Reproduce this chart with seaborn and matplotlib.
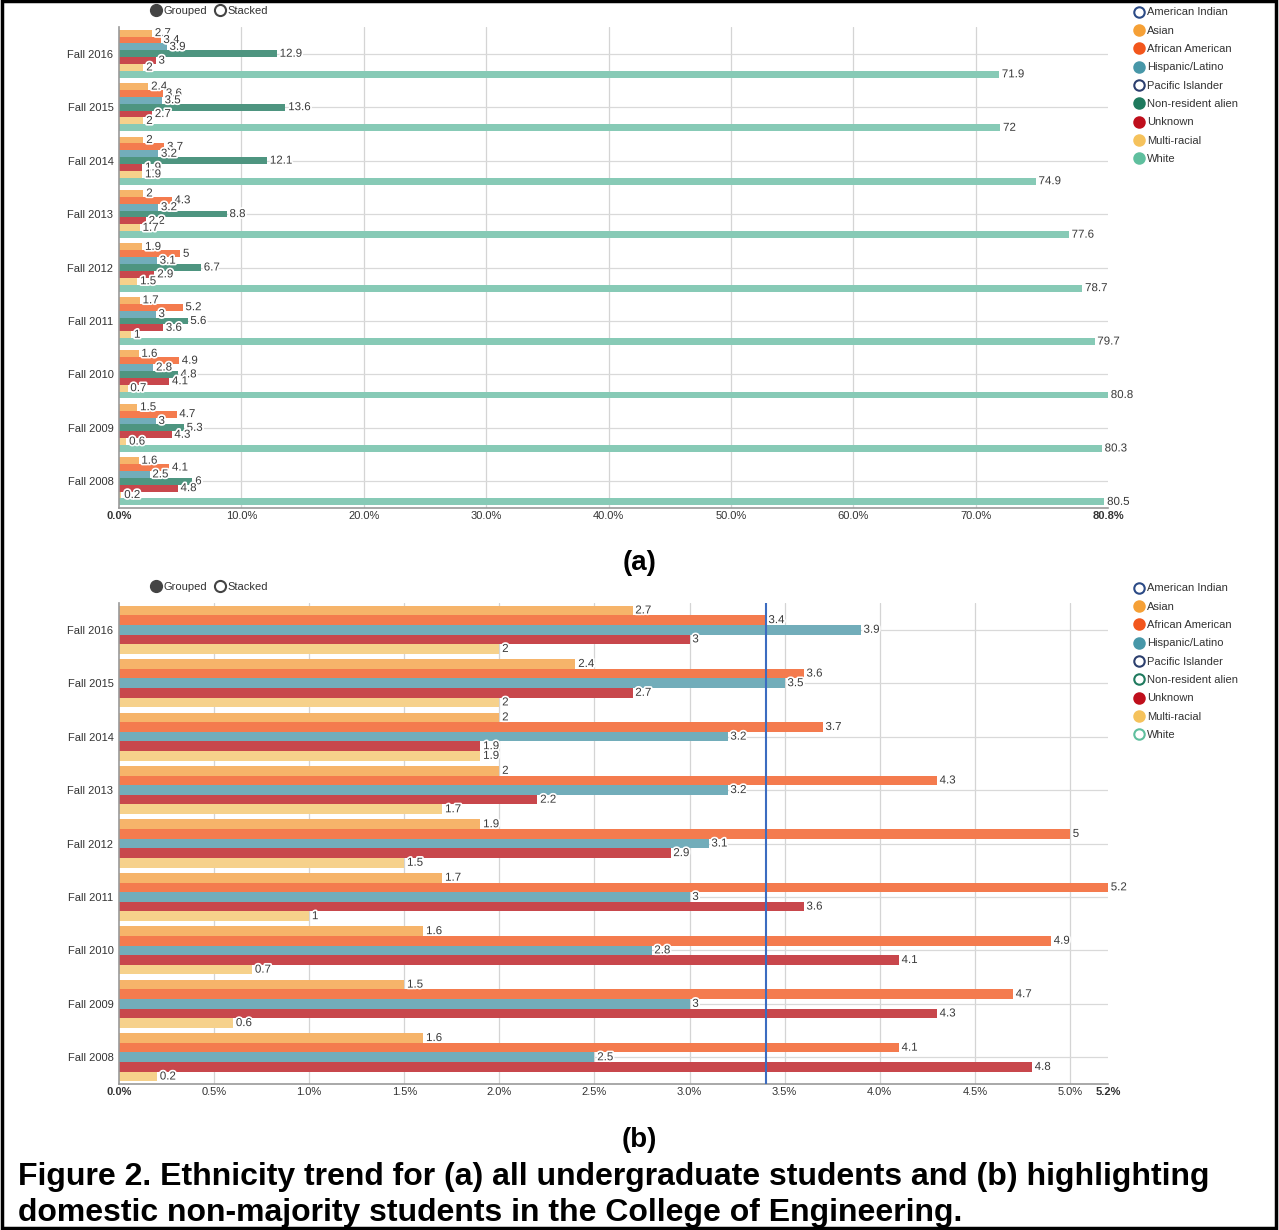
import matplotlib
matplotlib.use("Agg")
import matplotlib.pyplot as plt
import matplotlib.patheffects as pe
from matplotlib.lines import Line2D
from matplotlib.patches import Rectangle
import numpy as np
import pandas as pd
import seaborn as sns

# ---- data ----
terms = ["Fall 2016", "Fall 2015", "Fall 2014", "Fall 2013", "Fall 2012",
         "Fall 2011", "Fall 2010", "Fall 2009", "Fall 2008"]

asian = [2.7, 2.4, 2, 2, 1.9, 1.7, 1.6, 1.5, 1.6]
african_american = [3.4, 3.6, 3.7, 4.3, 5, 5.2, 4.9, 4.7, 4.1]
hispanic = [3.9, 3.5, 3.2, 3.2, 3.1, 3, 2.8, 3, 2.5]
non_resident = [12.9, 13.6, 12.1, 8.8, 6.7, 5.6, 4.8, 5.3, 6]
unknown = [3, 2.7, 1.9, 2.2, 2.9, 3.6, 4.1, 4.3, 4.8]
multi_racial = [2, 2, 1.9, 1.7, 1.5, 1, 0.7, 0.6, 0.2]
white = [71.9, 72, 74.9, 77.6, 78.7, 79.7, 80.8, 80.3, 80.5]

legend_labels = ["American Indian", "Asian", "African American", "Hispanic/Latino",
                 "Pacific Islander", "Non-resident alien", "Unknown", "Multi-racial", "White"]

top_series = {
    "Asian": asian,
    "African American": african_american,
    "Hispanic/Latino": hispanic,
    "Non-resident alien": non_resident,
    "Unknown": unknown,
    "Multi-racial": multi_racial,
    "White": white,
}
bottom_groups = ["Asian", "African American", "Hispanic/Latino", "Unknown", "Multi-racial"]

top_max = 80.8
bottom_max = 5.2
highlight = 3.4

# ---- colours ----
bar_colors = {
    "Asian": "#f6b46a",
    "African American": "#f47b4e",
    "Hispanic/Latino": "#72adba",
    "Non-resident alien": "#4e9580",
    "Unknown": "#c8474c",
    "Multi-racial": "#f6d18b",
    "White": "#87cab6",
}
legend_colors = {
    "American Indian": "#2b4a86",
    "Asian": "#f5a036",
    "African American": "#f2561c",
    "Hispanic/Latino": "#4797a8",
    "Pacific Islander": "#2c3f6e",
    "Non-resident alien": "#1f7a5e",
    "Unknown": "#bf0f1c",
    "Multi-racial": "#f5c25c",
    "White": "#5fbf9e",
}

sns.set_theme(style="white")
plt.rcParams["font.family"] = ["Liberation Sans", "DejaVu Sans"]

rows = []
for name, vals in top_series.items():
    for t, v in zip(terms, vals):
        rows.append({"term": t, "group": name, "value": v})
df = pd.DataFrame(rows)

W, H = 1279, 1230
fig = plt.figure(figsize=(W / 100, H / 100), dpi=100)


def fx(px):
    return px / W


def fy(py):
    return 1 - py / H


halo = [pe.withStroke(linewidth=2.5, foreground="white")]


def draw_panel(ax, data, order, xmax, ticks, tick_labels):
    sns.barplot(data=data, y="term", x="value", hue="group", hue_order=order,
                order=terms, orient="h", palette=bar_colors, width=0.9,
                linewidth=0, saturation=1, ax=ax, legend=False, errorbar=None)
    for cont, name in zip(ax.containers, order):
        vals = data[data["group"] == name].set_index("term").loc[terms, "value"]
        ax.bar_label(cont, labels=[f"{v:g}" for v in vals], padding=2,
                     fontsize=8.3, color="#3a3a3a", path_effects=halo)
    ax.set_xlim(0, xmax)
    ax.set_ylim(len(terms) - 0.5, -0.5)
    ax.set_xticks(ticks)
    ax.set_xticklabels(tick_labels)
    for lab in ax.get_xticklabels():
        if lab.get_text() in (tick_labels[0], tick_labels[-1]):
            lab.set_fontweight("bold")
    ax.tick_params(axis="both", length=0, labelsize=8, colors="#333333")
    ax.tick_params(axis="x", pad=2)
    ax.tick_params(axis="y", pad=4)
    ax.set_xlabel("")
    ax.set_ylabel("")
    for x in ticks[1:-1]:
        ax.axvline(x, color="#d4d4d4", lw=0.9, zorder=0)
    for i in range(len(terms)):
        ax.axhline(i, color="#d9d9d9", lw=0.9, zorder=0)
    for s in ["top", "right"]:
        ax.spines[s].set_visible(False)
    for s in ["left", "bottom"]:
        ax.spines[s].set_color("#999999")
        ax.spines[s].set_linewidth(1.2)


def draw_legend(top_px, hollow):
    handles = []
    for name in legend_labels:
        c = legend_colors[name]
        face = "none" if name in hollow else c
        handles.append(Line2D([], [], marker="o", ls="", markersize=7.5,
                              markerfacecolor=face, markeredgecolor=c,
                              markeredgewidth=1.5))
    fig.legend(handles, legend_labels, loc="upper left",
               bbox_to_anchor=(fx(1128), fy(top_px)), frameon=False,
               fontsize=8, handletextpad=0.1, labelspacing=0.75,
               borderaxespad=0, handlelength=1.2, labelcolor="#333333")


def draw_mode_toggle(y_px):
    handles = [Line2D([], [], marker="o", ls="", markersize=8.5,
                      markerfacecolor="#444444", markeredgecolor="#444444"),
               Line2D([], [], marker="o", ls="", markersize=8,
                      markerfacecolor="none", markeredgecolor="#444444",
                      markeredgewidth=1.5)]
    fig.legend(handles, ["Grouped", "Stacked"], loc="center left", ncol=2,
               bbox_to_anchor=(fx(145), fy(y_px)), frameon=False, fontsize=8,
               handletextpad=0.05, columnspacing=0.6, handlelength=1.2,
               borderaxespad=0, labelcolor="#333333")


# ---- panel (a) ----
ax1 = fig.add_axes([fx(119), fy(508), fx(1108) - fx(119), fy(27) - fy(508)])
t1 = [0, 10, 20, 30, 40, 50, 60, 70, top_max]
draw_panel(ax1, df, list(top_series.keys()), top_max, t1,
           [f"{t:.1f}%" for t in t1])
draw_legend(3, {"American Indian", "Pacific Islander"})
draw_mode_toggle(11)

# ---- panel (b) ----
ax2 = fig.add_axes([fx(119), fy(1084), fx(1108) - fx(119), fy(603) - fy(1084)])
t2 = [0, 0.5, 1.0, 1.5, 2.0, 2.5, 3.0, 3.5, 4.0, 4.5, 5.0, bottom_max]
draw_panel(ax2, df[df["group"].isin(bottom_groups)], bottom_groups,
           bottom_max, t2, [f"{t:.1f}%" for t in t2])
ax2.axvline(highlight, color="#3c6cc0", lw=1.5, zorder=5)
draw_legend(579, {"American Indian", "Pacific Islander", "Non-resident alien", "White"})
draw_mode_toggle(587)

# ---- captions ----
fig.text(0.5, fy(563), "(a)", ha="center", va="center", fontsize=20,
         fontweight="bold", color="black")
fig.text(0.5, fy(1140), "(b)", ha="center", va="center", fontsize=20,
         fontweight="bold", color="black")
fig.text(fx(18), fy(1177), "Figure 2. Ethnicity trend for (a) all undergraduate students and (b) highlighting",
         ha="left", va="center", fontsize=23, fontweight="bold", color="black")
fig.text(fx(18), fy(1213), "domestic non-majority students in the College of Engineering.",
         ha="left", va="center", fontsize=23, fontweight="bold", color="black")

fig.patches.append(Rectangle((fx(2), fy(1228)), fx(1276) - fx(2), fy(1) - fy(1228),
                             transform=fig.transFigure, fill=False,
                             edgecolor="black", linewidth=2.5))

fig.savefig("out.png", dpi=100)
